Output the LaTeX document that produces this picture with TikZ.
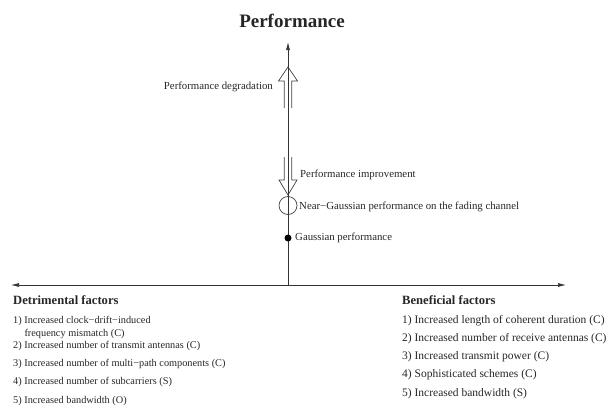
\documentclass[tikz,border=0pt]{standalone}
\usepackage{fontspec}
\setmainfont{Liberation Serif}
\usetikzlibrary{arrows.meta}
\begin{document}
\begin{tikzpicture}[x=1pt,y=-1pt,
  every node/.style={text=black!85},
  axis/.style={draw=black!80,line width=0.7pt,-{Latex[length=8pt,width=4pt]}},
  hollow/.style={draw=black!75,line width=0.7pt},
  lbl/.style={inner sep=0pt,font=\fontsize{10.8}{13}\selectfont},
  head/.style={inner sep=0pt,font=\fontsize{12.6}{14}\selectfont\bfseries,anchor=west},
  litem/.style={inner sep=0pt,font=\fontsize{10.3}{13}\selectfont,anchor=west,align=left},
  ritem/.style={inner sep=0pt,font=\fontsize{11.5}{13}\selectfont,anchor=west,align=left}]
\useasboundingbox (0,0) rectangle (612,407);
\node[inner sep=0pt,font=\fontsize{19}{21}\selectfont\bfseries] (title) at (292,21) {Performance};
% axes
\coordinate (O) at (288,285);
\coordinate (top) at (288,42);
\coordinate (L) at (11,285);
\coordinate (R) at (566,285);
\draw[axis] (O) -- (top);
\draw[axis] (O) -- (L);
\draw[axis] (O) -- (R);
% degradation arrow (up)
\draw[hollow] (284.3,108) -- (284.3,81) -- (278.5,81) -- (288,67) -- (297.5,81) -- (291.7,81) -- (291.7,108);
\node[lbl,anchor=east] (deg) at (273,87) {Performance degradation};
% improvement arrow (down)
\draw[hollow] (284.3,157) -- (284.3,180) -- (279,180) -- (288,195) -- (297,180) -- (291.7,180) -- (291.7,157);
\node[lbl,anchor=west] (imp) at (300,175) {Performance improvement};
% near gaussian circle
\node[circle,draw=black!75,line width=0.7pt,minimum size=18pt,inner sep=0pt] (ng) at (288,205.5) {};
\node[lbl,anchor=west] (ngl) at (299,207) {Near−Gaussian performance on the fading channel};
% gaussian dot
\node[circle,fill=black,minimum size=7pt,inner sep=0pt] (g) at (288,238) {};
\node[lbl,anchor=west] (gl) at (295,238) {Gaussian performance};
% left list
\node[head] (det) at (13,300) {Detrimental factors};
\node[litem] (d1) at (13,327.5) {1) Increased clock−drift−induced\\\hspace{1.1em}frequency mismatch (C)};
\node[litem] (d2) at (13,346) {2) Increased number of transmit antennas (C)};
\node[litem] (d3) at (13,364) {3) Increased number of multi−path components (C)};
\node[litem] (d4) at (13,382) {4) Increased number of subcarriers (S)};
\node[litem] (d5) at (13,401) {5) Increased bandwidth (O)};
% right list
\node[head] (ben) at (402,300) {Beneficial factors};
\node[ritem] (b1) at (402,321) {1) Increased length of coherent duration (C)};
\node[ritem] (b2) at (402,339) {2) Increased number of receive antennas (C)};
\node[ritem] (b3) at (402,357) {3) Increased transmit power (C)};
\node[ritem] (b4) at (402,375) {4) Sophisticated schemes (C)};
\node[ritem] (b5) at (402,394) {5) Increased bandwidth (S)};
\end{tikzpicture}
\end{document}
